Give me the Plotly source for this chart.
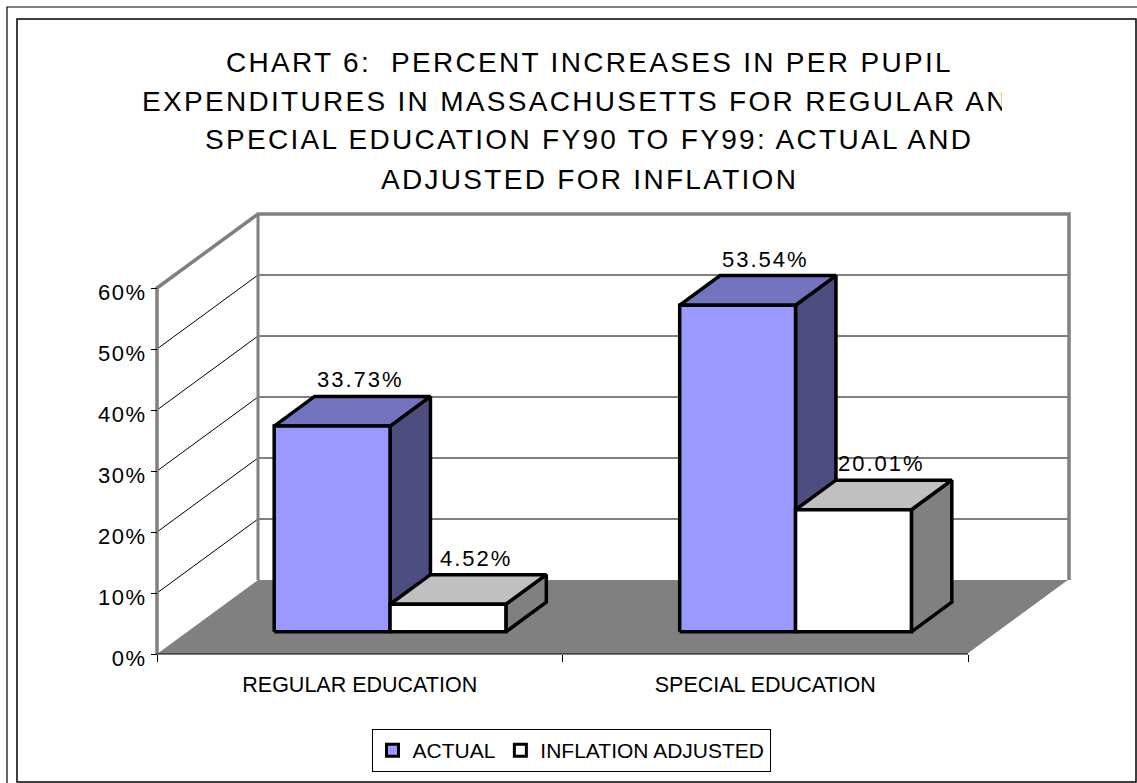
import plotly.graph_objects as go

# ---------------- data ----------------
categories = ["REGULAR EDUCATION", "SPECIAL EDUCATION"]
series_names = ["ACTUAL", "INFLATION ADJUSTED"]
actual_pct = [33.73, 53.54]
inflation_adjusted_pct = [4.52, 20.01]
y_tick_values = [0, 10, 20, 30, 40, 50, 60]
y_tick_labels = ["0%", "10%", "20%", "30%", "40%", "50%", "60%"]
title_lines = [
    "CHART 6:  PERCENT INCREASES IN PER PUPIL",
    "EXPENDITURES IN MASSACHUSETTS FOR REGULAR AND",
    "SPECIAL EDUCATION FY90 TO FY99: ACTUAL AND",
    "ADJUSTED FOR INFLATION",
]

series_values = [actual_pct, inflation_adjusted_pct]

# ---------------- style ----------------
front_colors = ["#9999FF", "#FFFFFF"]
top_colors = ["#7373BF", "#C0C0C0"]
side_colors = ["#4D4D80", "#808080"]
FONT = "Liberation Sans, Arial, sans-serif"

W, H = 1137, 783
FRONT_LEFT_PX, FRONT_RIGHT_PX = 157, 968
ZERO_PX, TOP_PX = 654, 288
DEPTH_DX_PX, DEPTH_DY_PX = 101, 74

y_max = y_tick_values[-1]
n_cat = len(categories)
n_ser = len(series_values)
sx = (FRONT_RIGHT_PX - FRONT_LEFT_PX) / n_cat   # px per category
sy = (ZERO_PX - TOP_PX) / y_max                 # px per percent
x_range = [-FRONT_LEFT_PX / sx, (W - FRONT_LEFT_PX) / sx]
y_range = [-(H - ZERO_PX) / sy, ZERO_PX / sy]
DX = DEPTH_DX_PX / sx
DY = DEPTH_DY_PX / sy

GAP_WIDTH = 1.5
GAP_DEPTH = 1.5
bar_w = 1.0 / (n_ser + GAP_WIDTH)
bar_depth = 1.0 / (1 + GAP_DEPTH)
d_front = GAP_DEPTH * bar_depth / 2
d_back = d_front + bar_depth


def P(x, y, d):
    return (x + d * DX, y + d * DY)


fig = go.Figure()


def poly(pts, fill, line_color=None, line_width=0, close=True):
    xs = [p[0] for p in pts]
    ys = [p[1] for p in pts]
    if close:
        xs.append(pts[0][0])
        ys.append(pts[0][1])
    kw = dict(x=xs, y=ys, hoverinfo="skip", showlegend=False)
    if fill is not None:
        kw["fill"] = "toself"
        kw["fillcolor"] = fill
    if line_width > 0:
        kw["mode"] = "lines"
        kw["line"] = dict(color=line_color, width=line_width)
    else:
        kw["mode"] = "none"
    fig.add_trace(go.Scatter(**kw))


def polyline(pts, color, width):
    fig.add_trace(go.Scatter(
        x=[p[0] for p in pts], y=[p[1] for p in pts], mode="lines",
        line=dict(color=color, width=width), hoverinfo="skip", showlegend=False))


xmax = float(n_cat)
# walls
poly([P(0, 0, 0), P(0, 0, 1), P(0, y_max, 1), P(0, y_max, 0)], "white")
poly([P(0, 0, 1), P(xmax, 0, 1), P(xmax, y_max, 1), P(0, y_max, 1)], "white")
# gridlines on walls
for v in y_tick_values[1:-1]:
    polyline([P(0, v, 0), P(0, v, 1), P(xmax, v, 1)], "black", 1)
# wall edges
polyline([P(0, 0, 0), P(0, y_max, 0), P(0, y_max, 1), P(xmax, y_max, 1), P(xmax, 0, 1)], "#808080", 3.5)
polyline([P(0, 0, 1), P(0, y_max, 1)], "#808080", 3)
# floor
poly([P(0, 0, 0), P(xmax, 0, 0), P(xmax, 0, 1), P(0, 0, 1)], "#808080")
polyline([P(xmax, 0, 0), P(xmax, 0, 1)], "white", 1.5)
polyline([P(0, 0, 0), P(xmax, 0, 0)], "black", 1.2)

# bars
annotations = []
for ci in range(n_cat):
    for si in range(n_ser):
        v = series_values[si][ci]
        x0 = ci + (GAP_WIDTH / 2 + si) * bar_w
        x1 = x0 + bar_w
        front = [P(x0, 0, d_front), P(x1, 0, d_front), P(x1, v, d_front), P(x0, v, d_front)]
        top = [P(x0, v, d_front), P(x1, v, d_front), P(x1, v, d_back), P(x0, v, d_back)]
        side = [P(x1, 0, d_front), P(x1, 0, d_back), P(x1, v, d_back), P(x1, v, d_front)]
        poly(side, side_colors[si], "black", 3.5)
        poly(top, top_colors[si], "black", 3.5)
        poly(front, front_colors[si], "black", 3.5)
        lx, _ = P((x0 + x1) / 2, v, d_front + 0.7 * bar_depth)
        _, ly = P(x0, v, d_back)
        annotations.append(dict(
            x=lx, y=ly, xref="x", yref="y", xanchor="center", yanchor="bottom",
            yshift=2, showarrow=False,
            text=f'<span style="letter-spacing:2px">{v:.2f}%</span>',
            font=dict(family=FONT, size=22, color="black")))

# legend entries
for si in range(n_ser):
    fig.add_trace(go.Bar(x=[None], y=[None], name=series_names[si],
                         marker=dict(color=front_colors[si], line=dict(color="black", width=3)),
                         hoverinfo="skip"))
# carrier for category-label axis
fig.add_trace(go.Scatter(x=[None], y=[None], xaxis="x2", yaxis="y", showlegend=False, hoverinfo="skip"))

# title
title_cx = 589 / W
title_cy = [62.5, 101, 139.5, 179]
for i, line in enumerate(title_lines):
    txt = f'<span style="letter-spacing:2.3px">{line}</span>'
    if i == 1:
        annotations.append(dict(
            x=140 / W, y=1 - title_cy[i] / H, xref="paper", yref="paper",
            xanchor="left", yanchor="middle", align="left", width=1000 - 140,
            showarrow=False, text=txt, font=dict(family=FONT, size=28, color="black")))
    else:
        annotations.append(dict(
            x=title_cx, y=1 - title_cy[i] / H, xref="paper", yref="paper",
            xanchor="center", yanchor="middle", showarrow=False, text=txt,
            font=dict(family=FONT, size=28, color="black")))

axis_pos_y = (H - ZERO_PX) / H
fig.update_layout(
    width=W, height=H, autosize=False,
    margin=dict(l=0, r=0, t=0, b=0),
    paper_bgcolor="white", plot_bgcolor="rgba(0,0,0,0)",
    font=dict(family=FONT, color="black"),
    showlegend=True,
    legend=dict(orientation="h", x=571 / W, xanchor="center", y=1 - 729 / H, yanchor="top",
                bordercolor="black", borderwidth=1, bgcolor="white",
                font=dict(family=FONT, size=21, color="black"), traceorder="normal",
                entrywidth=0),
    xaxis=dict(range=x_range, showgrid=False, zeroline=False, showline=False,
               tickvals=[0, 1, 2], ticktext=["", "", ""], ticks="outside", ticklen=7,
               tickcolor="black", tickwidth=1, anchor="free", position=axis_pos_y,
               fixedrange=True),
    xaxis2=dict(range=x_range, overlaying="x", showgrid=False, zeroline=False, showline=False,
                tickvals=[i + 0.5 for i in range(n_cat)], ticktext=categories, ticks="",
                anchor="free", position=axis_pos_y, side="bottom", ticklabelstandoff=15,
                tickfont=dict(family=FONT, size=21.5, color="black"), fixedrange=True),
    yaxis=dict(range=y_range, showgrid=False, zeroline=False, showline=False,
               tickvals=y_tick_values,
               ticktext=[f'<span style="letter-spacing:1.5px">{t}</span>' for t in y_tick_labels],
               ticks="outside", ticklen=6, tickcolor="black", tickwidth=1,
               anchor="free", position=FRONT_LEFT_PX / W, ticklabelshift=4,
               tickfont=dict(family=FONT, size=22, color="black"), fixedrange=True),
    annotations=annotations,
    shapes=[
        dict(type="rect", xref="paper", yref="paper", x0=7 / W, x1=1150 / W,
             y0=1 - 800 / H, y1=1 - 7 / H, line=dict(color="black", width=1.2)),
        dict(type="rect", xref="paper", yref="paper", x0=17 / W, x1=1136 / W,
             y0=1 - 782 / H, y1=1 - 19 / H, line=dict(color="black", width=1.5)),
    ],
)

fig.write_html("out.html")
